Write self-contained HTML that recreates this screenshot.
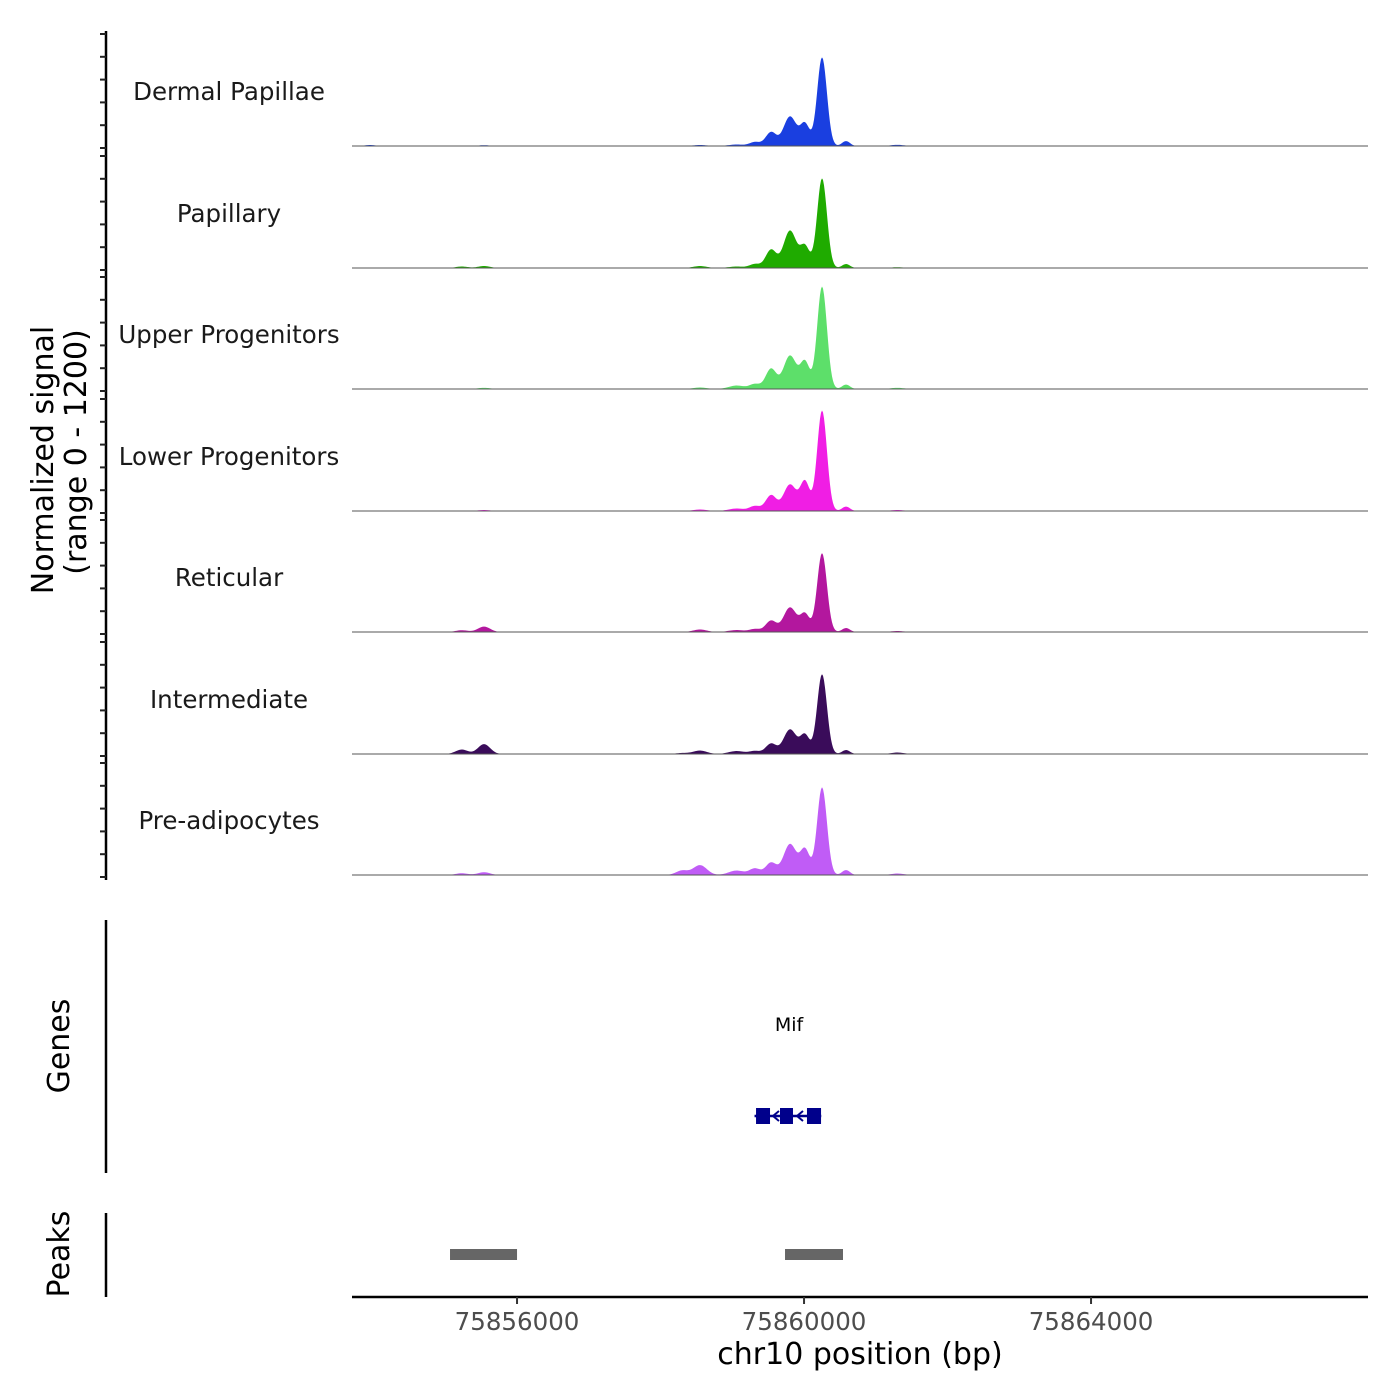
<!DOCTYPE html>
<html><head><meta charset="utf-8">
<style>
html,body{margin:0;padding:0;background:#fff;}
svg{display:block;font-family:"DejaVu Sans","Liberation Sans",sans-serif;}
</style></head>
<body>
<svg id="chart" width="1400" height="1400" viewBox="0 0 1400 1400" xmlns="http://www.w3.org/2000/svg">
<g id="tracks"></g>
<g id="yaxis"></g>
<text transform="translate(53,460) rotate(-90)" text-anchor="middle" font-size="30" fill="#000">Normalized signal</text>
<text transform="translate(86,452) rotate(-90)" text-anchor="middle" font-size="30" fill="#000">(range 0 - 1200)</text>
<line x1="106" y1="920" x2="106" y2="1173" stroke="#000" stroke-width="2.5"/>
<text transform="translate(69,1046) rotate(-90)" text-anchor="middle" font-size="30" fill="#000">Genes</text>
<text x="789" y="1031" text-anchor="middle" font-size="19" fill="#000">Mif</text>
<g id="genes"></g>
<line x1="106" y1="1213" x2="106" y2="1297" stroke="#000" stroke-width="2.5"/>
<text transform="translate(69,1254) rotate(-90)" text-anchor="middle" font-size="30" fill="#000">Peaks</text>
<g id="peaks"></g>
<g id="xaxis"></g>
<text x="860" y="1364" text-anchor="middle" font-size="30" fill="#000">chr10 position (bp)</text>
</svg>
<script>
// ---- data ----
const trackNames = ["Dermal Papillae","Papillary","Upper Progenitors","Lower Progenitors","Reticular","Intermediate","Pre-adipocytes"];
const trackColors = ["#1a3fe0","#1fab00","#5ddf6a","#f01ee4","#b3179e","#3a0c5a","#c05cf6"];
// bump centres (bp) and widths (bp)
const bumpCenters = [75860251,75859805,75860014,75859540,75859317,75860585,75855540,75855230,75858550,75858300,75859060,75861300,75853950];
const bumpWidths  = [68,90,65,75,75,55,85,85,95,85,110,90,70];
// heights (signal units, 0-1200) per track, aligned with bumpCenters
const dermalPapillae   = [900,300,220,140,40,50,8,0,10,0,15,12,10];
const papillary        = [910,380,215,185,40,40,20,15,20,0,15,8,0];
const upperProgenitors = [1040,340,270,205,50,45,12,0,15,0,35,12,0];
const lowerProgenitors = [1020,270,295,160,50,45,10,0,15,0,25,10,0];
const reticular        = [800,250,180,115,30,40,55,18,25,0,20,10,0];
const intermediate     = [810,250,190,105,30,40,100,45,35,10,30,15,0];
const preAdipocytes    = [890,315,255,125,65,50,28,18,100,45,45,15,0];
const trackValues = [dermalPapillae,papillary,upperProgenitors,lowerProgenitors,reticular,intermediate,preAdipocytes];
const xTicks = [75856000,75860000,75864000];
const tickLabels = ["75856000","75860000","75864000"];
const geneExons = [[75859331,75859526],[75859665,75859846],[75860041,75860237]];
const geneSpan = [75859310,75860240];
const peakRegions = [[75855066,75856000],[75859735,75860543]];

// ---- scales ----
const X0=352, X1=1368, BP0=75853700, BP1=75867860;
const xs = bp => X0 + (bp-BP0)/(BP1-BP0)*(X1-X0);
const baselines = [146,268,389,511,632,754,875];
const ys = (v,b) => b - v*0.0985;
const NS="http://www.w3.org/2000/svg";
function mk(tag,attrs,parent){const e=document.createElementNS(NS,tag);for(const k in attrs)e.setAttribute(k,attrs[k]);parent.appendChild(e);return e;}

const tracksG=document.getElementById('tracks');
trackNames.forEach((name,t)=>{
  const b=baselines[t], vals=trackValues[t];
  let d=`M${X0},${b}`;
  for(let px=X0;px<=X1;px+=1){
    const bp=BP0+(px-X0)/(X1-X0)*(BP1-BP0);
    let v=0;
    for(let i=0;i<bumpCenters.length;i++){const z=(bp-bumpCenters[i])/bumpWidths[i];v+=vals[i]*Math.exp(-0.5*z*z);}
    d+=`L${px},${ys(v,b).toFixed(2)}`;
  }
  d+=`L${X1},${b}Z`;
  const p=mk('path',{d:d,fill:trackColors[t],stroke:'none'},tracksG);
  
  
  const bl=mk('line',{x1:X0,y1:b,x2:X1,y2:b,stroke:'#555',"stroke-width":1},tracksG);
  
  
  const lab=mk('text',{x:229,y:b-46,"text-anchor":"middle","font-size":24.5,fill:'#1a1a1a'},tracksG);
  lab.textContent=name;
  
  
});

const yax=document.getElementById('yaxis');
const al=mk('line',{x1:106,y1:31,x2:106,y2:880,stroke:'#000',"stroke-width":2.5},yax);


baselines.forEach(b=>{
  for(let k=0;k<6;k++){
    const y=b+2-k*22.8;
    if(y<31)continue;
    const tk=mk('line',{x1:100,y1:y,x2:106,y2:y,stroke:'#222',"stroke-width":2},yax);
    
    
  }
});

const gG=document.getElementById('genes');
const gl=mk('line',{x1:xs(geneSpan[0]),y1:1116,x2:xs(geneSpan[1]),y2:1116,stroke:'#00008b',"stroke-width":2.5},gG);


geneExons.forEach(e=>{
  const r=mk('rect',{x:xs(e[0]),y:1108,width:xs(e[1])-xs(e[0]),height:16,fill:'#00008b'},gG);
  
  
});
[[773,1116],[797,1116]].forEach(([x,y])=>{
  const a=mk('path',{d:`M${x+6},${y-5}L${x},${y}L${x+6},${y+5}`,fill:'none',stroke:'#00008b',"stroke-width":2},gG);
  
  
});

const pG=document.getElementById('peaks');
peakRegions.forEach(p=>{
  const r=mk('rect',{x:xs(p[0]),y:1249,width:xs(p[1])-xs(p[0]),height:11,fill:'#666'},pG);
  
  
});

const xG=document.getElementById('xaxis');
const xl=mk('line',{x1:X0,y1:1297,x2:X1,y2:1297,stroke:'#000',"stroke-width":2.5},xG);


xTicks.forEach((t,i)=>{
  const x=xs(t);
  const tk=mk('line',{x1:x,y1:1297,x2:x,y2:1304,stroke:'#333',"stroke-width":2},xG);
  
  
  const tl=mk('text',{x:x,y:1330,"text-anchor":"middle","font-size":24.5,fill:'#4d4d4d'},xG);
  tl.textContent=tickLabels[i];
  
  
});
</script>
</body></html>
